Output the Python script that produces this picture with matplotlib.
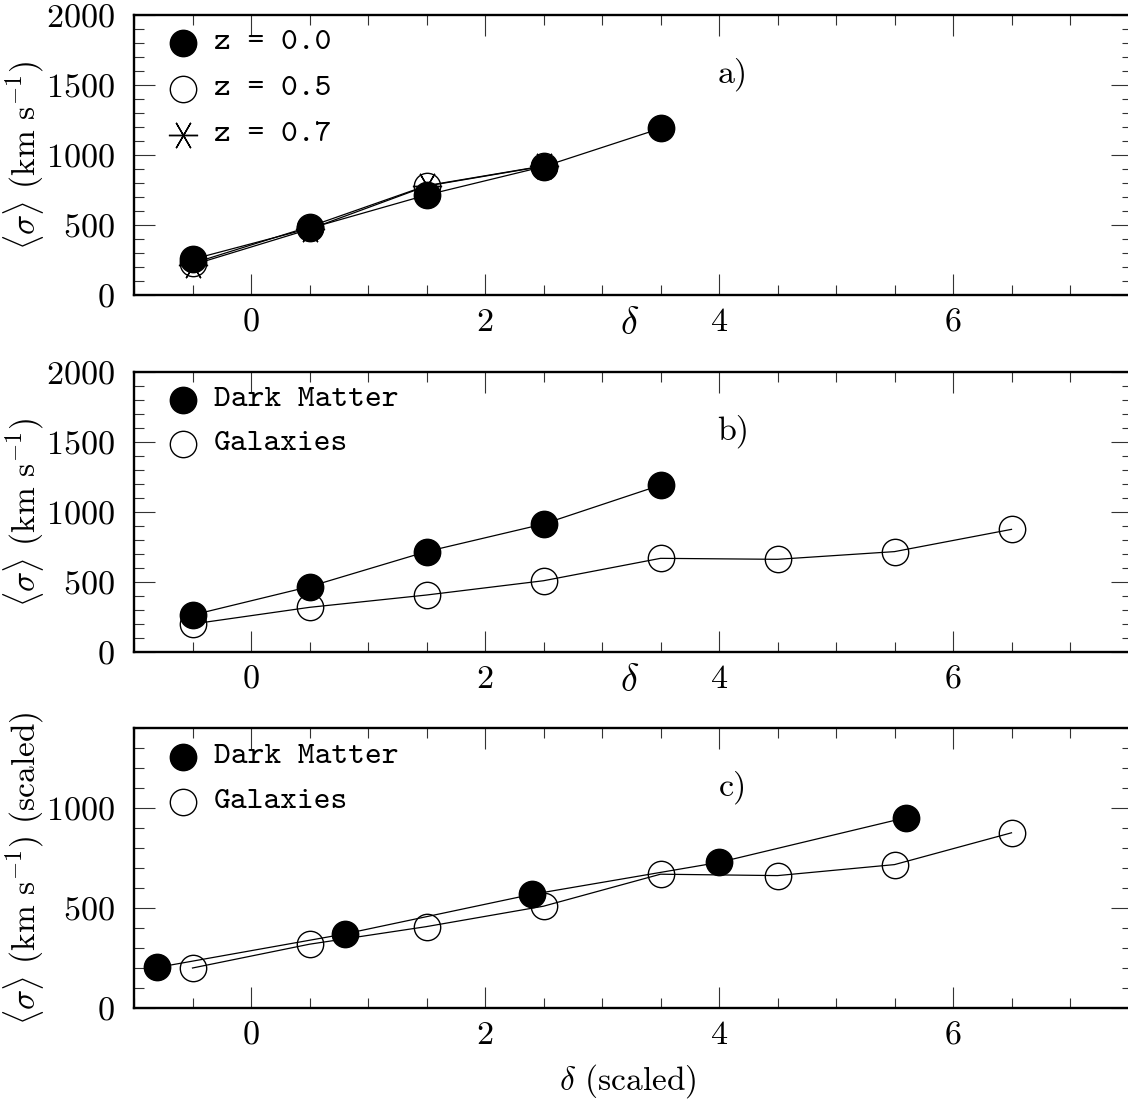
import matplotlib
matplotlib.use("Agg")
import matplotlib.pyplot as plt
from matplotlib.ticker import MultipleLocator

plt.rcParams['font.family'] = ['cmr10', 'DejaVu Serif']
plt.rcParams['mathtext.fontset'] = 'cm'
plt.rcParams['axes.unicode_minus'] = False
plt.rcParams['axes.formatter.use_mathtext'] = True

# panel a: <sigma> vs delta at three redshifts
delta_a = [-0.5, 0.5, 1.5, 2.5, 3.5]
sig_z00 = [255, 476, 714, 917, 1190]
delta_z05 = [-0.5, 0.5, 1.5, 2.5]
sig_z05 = [226, 488, 781, 922]
delta_z07 = [-0.5, 0.5, 1.5, 2.5]
sig_z07 = [215, 470, 778, 920]

# panel b: dark matter vs galaxies
delta_dm = [-0.5, 0.5, 1.5, 2.5, 3.5]
sig_dm = [264, 467, 717, 914, 1192]
delta_gal = [-0.5, 0.5, 1.5, 2.5, 3.5, 4.5, 5.5, 6.5]
sig_gal = [200, 319, 407, 509, 669, 662, 717, 876]

# panel c: scaled dark matter
delta_dm_sc = [-0.8, 0.8, 2.4, 4.0, 5.6]
sig_dm_sc = [203, 370, 568, 728, 952]

W, H = 1128, 1099
fig = plt.figure(figsize=(W / 100, H / 100), dpi=100)

# axes boxes in pixels (left, top, right, bottom); right spine falls off the page
boxes = [(134, 15, 1132, 295), (134, 372, 1132, 652), (134, 728, 1132, 1008)]
axes = []
for l, t, r, b in boxes:
    ax = fig.add_axes([l / W, 1 - b / H, (r - l) / W, (b - t) / H])
    axes.append(ax)

tick_fs = 24.5
lab_fs = 24
leg_fs = 23
ms = 19
lw = 0.9
x_right = -1 + (1132 - 134) / 117.0

def style(ax, ymax):
    ax.set_xlim(-1, x_right)
    ax.set_ylim(0, ymax)
    ax.xaxis.set_major_locator(MultipleLocator(2))
    ax.xaxis.set_minor_locator(MultipleLocator(0.5))
    ax.yaxis.set_major_locator(MultipleLocator(500))
    ax.yaxis.set_minor_locator(MultipleLocator(100))
    ax.tick_params(which='both', direction='in', top=True, right=True,
                   labelsize=tick_fs, width=0.8, color='#333333')
    ax.tick_params(which='major', length=15)
    ax.tick_params(which='minor', length=7.5)
    ax.tick_params(axis='x', pad=9)
    ax.tick_params(axis='y', pad=14)
    for s in ax.spines.values():
        s.set_linewidth(1.7)

def legend_row(ax, y, text, **mk):
    ax.plot([0.049], [y], transform=ax.transAxes, clip_on=False, ls='none', **mk)
    ax.text(0.08, y, text, transform=ax.transAxes, ha='left', va='center',
            family='cmtt10', fontsize=leg_fs)

filled = dict(marker='o', ms=ms, mfc='black', mec='black', mew=1.0)
opened = dict(marker='o', ms=ms, mfc='none', mec='black', mew=1.0)
star = dict(marker=(6, 2, 90), ms=ms + 2, mfc='none', mec='black', mew=1.0)

ylab = r'$\langle\sigma\rangle$ (km s$^{-1}$)'

# ---- a)
ax = axes[0]
style(ax, 2000)
ax.plot(delta_z07, sig_z07, color='black', lw=lw, **star)
ax.plot(delta_z05, sig_z05, color='black', lw=lw, **opened)
ax.plot(delta_a, sig_z00, color='black', lw=lw, **filled)
legend_row(ax, 0.90, 'z = 0.0', **filled)
legend_row(ax, 0.736, 'z = 0.5', **opened)
legend_row(ax, 0.571, 'z = 0.7', **star)
ax.text(0.60, 0.79, 'a)', transform=ax.transAxes, ha='center', va='center', fontsize=tick_fs)
ax.text(0.497, -0.105, r'$\delta$', transform=ax.transAxes, ha='center', va='center', fontsize=tick_fs + 3)
ax.text(-0.11, 0.5, ylab, transform=ax.transAxes,
        rotation=90, ha='center', va='center', fontsize=lab_fs)

# ---- b)
ax = axes[1]
style(ax, 2000)
ax.plot(delta_gal, sig_gal, color='black', lw=lw, **opened)
ax.plot(delta_dm, sig_dm, color='black', lw=lw, **filled)
legend_row(ax, 0.90, 'Dark Matter', **filled)
legend_row(ax, 0.743, 'Galaxies', **opened)
ax.text(0.60, 0.79, 'b)', transform=ax.transAxes, ha='center', va='center', fontsize=tick_fs)
ax.text(0.497, -0.105, r'$\delta$', transform=ax.transAxes, ha='center', va='center', fontsize=tick_fs + 3)
ax.text(-0.11, 0.5, ylab, transform=ax.transAxes,
        rotation=90, ha='center', va='center', fontsize=lab_fs)

# ---- c)
ax = axes[2]
style(ax, 1400)
ax.plot(delta_gal, sig_gal, color='black', lw=lw, **opened)
ax.plot(delta_dm_sc, sig_dm_sc, color='black', lw=lw, **filled)
legend_row(ax, 0.896, 'Dark Matter', **filled)
legend_row(ax, 0.736, 'Galaxies', **opened)
ax.text(0.60, 0.79, 'c)', transform=ax.transAxes, ha='center', va='center', fontsize=tick_fs)
ax.text(0.495, -0.26, r'$\delta$ (scaled)', transform=ax.transAxes, ha='center', va='center', fontsize=lab_fs)
ax.text(-0.11, 0.5, ylab + ' (scaled)', transform=ax.transAxes,
        rotation=90, ha='center', va='center', fontsize=lab_fs)

plt.savefig('out.png', dpi=100)
